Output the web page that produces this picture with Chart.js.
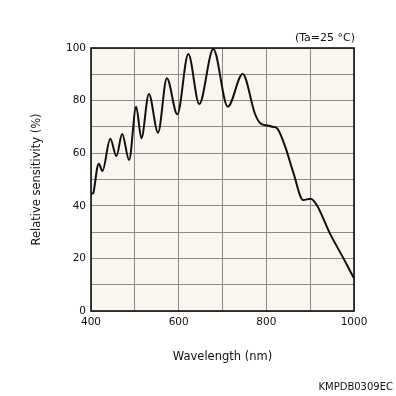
<!DOCTYPE html>
<html>
<head>
<meta charset="utf-8">
<script src="https://cdn.jsdelivr.net/npm/chart.js@4"></script>
<style>
  html, body { margin: 0; padding: 0; background: #ffffff; }
  #wrap { position: relative; width: 396px; height: 396px; font-family: "DejaVu Sans", sans-serif; color: #111; }
  #note { position: absolute; right: 41px; top: 31px; font-size: 11px; }
  #code { position: absolute; right: 3px; top: 381px; font-size: 10px; }
</style>
</head>
<body>
<div id="wrap">
  <canvas id="chart" width="396" height="396"></canvas>
  <div id="note">(Ta=25 °C)</div>
  <div id="code">KMPDB0309EC</div>
</div>
<script>
// spectral response
const wavelength = [400, 405, 409, 414, 418, 426, 444, 458, 471, 487, 503, 515, 532, 553, 573, 597,
  622, 647, 679, 712, 746, 774, 786, 800, 816, 824, 843, 862, 884, 901, 915, 945, 976, 1000];
const sensitivity = [44.6, 44.8, 48.5, 54.3, 56.0, 53.2, 65.5, 58.9, 67.3, 57.4, 77.7, 65.7, 82.5, 67.8, 88.5, 74.8,
  97.7, 78.7, 99.6, 77.7, 90.1, 75.0, 71.4, 70.6, 70.0, 69.6, 62.5, 52.4, 42.2, 42.7, 40.3, 29.5, 20.0, 12.4];

const xTickLabels = [400, 600, 800, 1000];
const yTickLabels = [0, 20, 40, 60, 80, 100];

const font_name = "DejaVu Sans";

const points = [];
for (let i = 0; i < wavelength.length; i++) {
  points.push({ x: wavelength[i], y: sensitivity[i] });
}

const framePlugin = {
  id: "frame",
  beforeDraw: function (chart) {
    const a = chart.chartArea;
    const ctx = chart.ctx;
    ctx.save();
    ctx.fillStyle = "#f8f6ef";
    ctx.fillRect(a.left, a.top, a.right - a.left, a.bottom - a.top);
    ctx.restore();
  },
  afterDraw: function (chart) {
    const a = chart.chartArea;
    const ctx = chart.ctx;
    ctx.save();
    ctx.strokeStyle = "#111";
    ctx.lineWidth = 1.6;
    ctx.strokeRect(a.left, a.top, a.right - a.left, a.bottom - a.top);
    ctx.restore();
  }
};

new Chart(document.getElementById("chart"), {
  type: "line",
  data: {
    datasets: [{
      data: points,
      borderColor: "#111",
      borderWidth: 2,
      pointRadius: 0,
      fill: false,
      cubicInterpolationMode: "monotone"
    }]
  },
  options: {
    responsive: false,
    animation: false,
    layout: { padding: { left: 0, top: 48, right: 42, bottom: 0 } },
    plugins: {
      legend: { display: false },
      tooltip: { enabled: false }
    },
    scales: {
      x: {
        type: "linear",
        min: 400,
        max: 1000,
        afterFit: function (scale) { scale.height = 85; },
        grid: { color: "#8a8a8a", lineWidth: 1, drawTicks: false },
        border: { display: false },
        ticks: {
          stepSize: 100,
          padding: 5,
          maxRotation: 0,
          color: "#111",
          font: { family: font_name, size: 10.5 },
          callback: function (v) { return xTickLabels.includes(v) ? String(v) : ""; }
        },
        title: {
          display: true,
          text: "Wavelength (nm)",
          color: "#111",
          font: { family: font_name, size: 11.5 },
          padding: { top: 0, bottom: 32 }
        }
      },
      y: {
        min: 0,
        max: 100,
        afterFit: function (scale) { scale.width = 91; },
        grid: { color: "#8a8a8a", lineWidth: 1, drawTicks: false },
        border: { display: false },
        ticks: {
          stepSize: 10,
          padding: 5,
          color: "#111",
          font: { family: font_name, size: 10.5 },
          callback: function (v) { return yTickLabels.includes(v) ? String(v) : ""; }
        },
        title: {
          display: true,
          text: "Relative sensitivity (%)",
          color: "#111",
          font: { family: font_name, size: 11.5 },
          padding: { top: 30, bottom: 0 }
        }
      }
    }
  },
  plugins: [framePlugin]
});
</script>
</body>
</html>
